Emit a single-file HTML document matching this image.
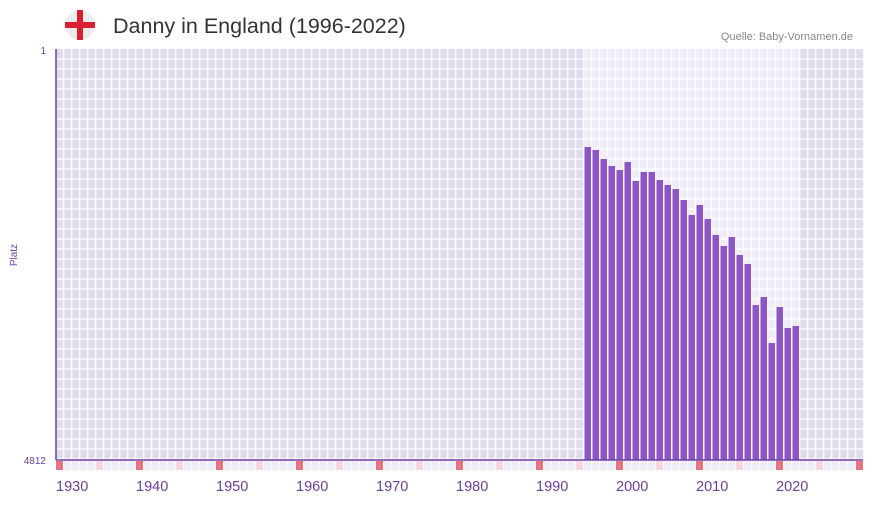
<!DOCTYPE html>
<html><head><meta charset="utf-8"><style>
body{margin:0;width:873px;height:502px;background:#fff;overflow:hidden;font-family:"Liberation Sans",sans-serif}
</style></head><body>
<svg id="c" width="873" height="502" xmlns="http://www.w3.org/2000/svg">
<g>
<circle cx="80" cy="25" r="15" fill="#ececec"/>
<rect x="65" y="22" width="30" height="6" fill="#d8202f"/>
<rect x="77" y="10" width="6" height="30" fill="#d8202f"/>
</g>
<text x="113" y="33" font-size="21.5" fill="#333">Danny in England (1996-2022)</text>
<text x="853" y="40" font-size="11" fill="#888" text-anchor="end">Quelle: Baby-Vornamen.de</text>
<text transform="translate(17,255) rotate(-90)" font-size="10" fill="#6a3fa0" text-anchor="middle">Platz</text>
<text x="46" y="54" font-size="10" fill="#6a3fa0" text-anchor="end">1</text>
<text x="46" y="464" font-size="10" fill="#6a3fa0" text-anchor="end">4812</text>
<g id="bg"></g><g id="grid"></g><g id="bars"></g><g id="strip"></g><g id="xl"></g>
<line x1="56" y1="49" x2="56" y2="460" stroke="#6a3fa0" stroke-width="1.5"/>
<line x1="56" y1="460" x2="863" y2="460" stroke="#6a3fa0" stroke-width="1.5"/>
</svg>
<script>
const years=[1996,1997,1998,1999,2000,2001,2002,2003,2004,2005,2006,2007,2008,2009,2010,2011,2012,2013,2014,2015,2016,2017,2018,2019,2020,2021,2022];
const ranks=[1148,1183,1289,1371,1417,1324,1546,1441,1441,1534,1593,1640,1769,1944,1827,1991,2178,2307,2202,2412,2518,2998,2904,3443,3021,3267,3244];
const xTicks=[1930,1940,1950,1960,1970,1980,1990,2000,2010,2020];
const minYear=1930,maxYear=2030,maxRank=4812;
const NS="http://www.w3.org/2000/svg";
const X0=56,W=8,Y0=49,Y1=460;
const xs=y=>X0+(y-minYear)*W;
const ys=r=>Y0+(r-1)/(maxRank-1)*(Y1-Y0);
function mk(t,a,p){const e=document.createElementNS(NS,t);for(const k in a)e.setAttribute(k,a[k]);p.appendChild(e);return e;}
const bg=document.getElementById('bg');
let r=mk('rect',{x:X0,y:Y0,width:863-X0,height:Y1-Y0,fill:'#e1dcec'},bg);


r=mk('rect',{x:xs(years[0]),y:Y0,width:years.length*W,height:Y1-Y0,fill:'#efebf9'},bg);


const g=document.getElementById('grid');
for(let x=X0+W;x<863;x+=W)mk('line',{x1:x-0.5,y1:Y0,x2:x-0.5,y2:Y1,stroke:'#fff','stroke-width':1.5,opacity:0.85},g);
for(let y=Y0+10;y<Y1;y+=10)mk('line',{x1:X0,y1:y,x2:863,y2:y,stroke:'#fff','stroke-width':1.5,opacity:0.85},g);
const b=document.getElementById('bars');
years.forEach((yr,i)=>{const t=ys(ranks[i]);const e=mk('rect',{x:xs(yr)+0.5,y:t,width:W-1.5,height:Y1-t,fill:'#8e55c7'},b);

});
const s=document.getElementById('strip');
for(let yr=minYear;yr<=maxYear;yr++){const c=yr%10==0?'#e8737f':(yr%5==0?'#f6d6e0':'#f0ecf8');
const e=mk('rect',{x:xs(yr),y:461,width:W-1,height:9,fill:c},s);

}
const xl=document.getElementById('xl');
xTicks.forEach(yr=>{const e=mk('text',{x:xs(yr),y:491,'font-size':14.5,fill:'#6a3fa0'},xl);e.textContent=yr;

});
</script>
</body></html>
